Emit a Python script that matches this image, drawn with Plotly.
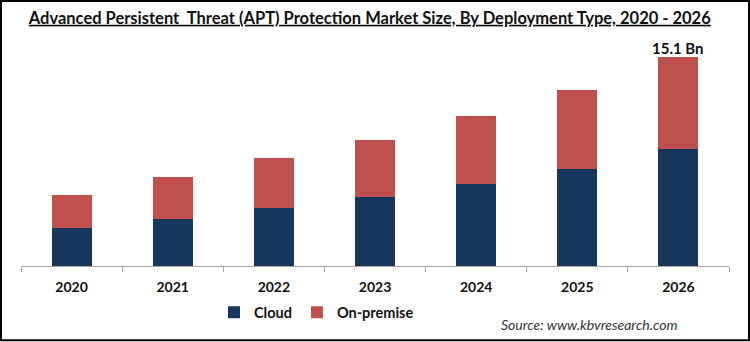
import plotly.graph_objects as go

years = ["2020", "2021", "2022", "2023", "2024", "2025", "2026"]
cloud = [2.72, 3.42, 4.21, 4.98, 5.89, 7.02, 8.43]
on_premise = [2.40, 3.02, 3.58, 4.12, 4.91, 5.68, 6.67]
series_names = ["Cloud", "On-premise"]
colors = ["#17375E", "#C0504D"]

W, H = 750, 342
L, R, T, B = 21, 21, 50, 75.5
pw, ph = W - L - R, H - T - B
ymax = 15.58

def px_x(p):
    return (p - L) / pw

def px_y(p):
    return (H - B - p) / ph

fig = go.Figure()
for name, vals, c in zip(series_names, [cloud, on_premise], colors):
    fig.add_trace(go.Bar(x=years, y=vals, name=name, marker=dict(color=c, line=dict(width=0))))

last_idx = len(years) - 1
total_last = cloud[last_idx] + on_premise[last_idx]
fig.add_annotation(x=last_idx, y=total_last, text=f"{total_last:.1f} Bn", showarrow=False,
                   yanchor="bottom", xanchor="center", yshift=-2,
                   font=dict(family="Lato", size=15, color="#111111", weight="bold"))

fig.add_annotation(xref="paper", yref="paper", x=px_x(679), y=px_y(325), xanchor="right", yanchor="middle",
                   text="<i>Source: www.kbvresearch.com</i>", showarrow=False,
                   font=dict(family="Lato", size=14, color="#333333"))

fig.add_shape(type="rect", xref="paper", yref="paper",
              x0=px_x(1), x1=px_x(749), y0=px_y(341), y1=px_y(1),
              line=dict(color="#000000", width=2), fillcolor="rgba(0,0,0,0)", layer="above")

fig.update_layout(
    width=W, height=H,
    margin=dict(l=L, r=R, t=T, b=B),
    paper_bgcolor="white", plot_bgcolor="white",
    barmode="stack", bargap=0.604,
    title=dict(text="<b><u>Advanced Persistent  Threat (APT) Protection Market Size, By Deployment Type, 2020 - 2026</u></b>",
               x=0.493, xanchor="center", xref="container", y=1 - 18 / H, yanchor="middle", yref="container",
               font=dict(family="Lato", size=16.5, color="#111111")),
    legend=dict(orientation="h", traceorder="normal", x=px_x(214), xanchor="left", y=px_y(313), yanchor="middle",
                font=dict(family="Lato", size=14.5, color="#111111", weight="bold"),
                bgcolor="rgba(0,0,0,0)"),
    showlegend=True,
)
fig.update_xaxes(type="category", range=[-0.5, len(years) - 0.5], autorange=False,
                 showline=True, linecolor="#A6A6A6", linewidth=1, ticks="outside",
                 tickson="boundaries", ticklen=5, tickcolor="#A6A6A6", showgrid=False, ticklabelstandoff=8,
                 tickfont=dict(family="Lato", size=14, color="#111111", weight="bold"))
fig.update_yaxes(range=[0, ymax], visible=False, showgrid=False)

fig.write_html("out.html")
